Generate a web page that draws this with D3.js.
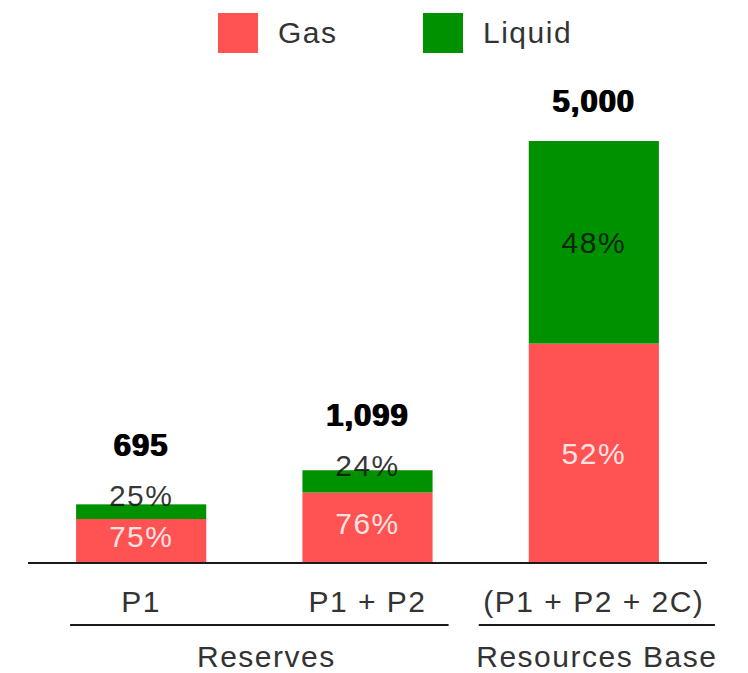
<!DOCTYPE html>
<html>
<head>
<meta charset="utf-8">
<script src="https://cdn.jsdelivr.net/npm/d3@7/dist/d3.min.js"></script>
<style>
  html, body { margin: 0; padding: 0; background: #fff; }
  svg { display: block; font-family: "Liberation Sans", Arial, Helvetica, sans-serif; }
</style>
</head>
<body>
<svg id="chart" width="748" height="673"></svg>
<script>
// Reserves and resources, split into gas and liquid shares
const categories = ["P1", "P1 + P2", "(P1 + P2 + 2C)"];
const totals = [695, 1099, 5000];
const gasPct = [75, 76, 52];
const liquidPct = gasPct.map(p => 100 - p);
const seriesNames = ["Gas", "Liquid"];
const groupNames = ["Reserves", "Resources Base"];
const groupMembers = [[0, 1], [2, 2]];

const colors = { Gas: "#ff5252", Liquid: "#009100" };
const W = 748, H = 673;
const baseY = 563, topY = 141;
const fs = 30;

const svg = d3.select("#chart");

const x = d3.scaleBand()
  .domain(categories)
  .range([28, 707])
  .paddingInner(0.425)
  .paddingOuter(0.2125);

const y = d3.scaleLinear()
  .domain([0, 5000])
  .range([baseY, topY]);

// stacked rows: gas at the bottom, liquid on top
const rows = categories.map((c, i) => ({
  cat: c,
  total: totals[i],
  Gas: totals[i] * gasPct[i] / 100,
  Liquid: totals[i] * liquidPct[i] / 100,
  gasPct: gasPct[i],
  liquidPct: liquidPct[i]
}));
const stack = d3.stack().keys(seriesNames)(rows);

const bars = svg.append("g");
stack.forEach(layer => {
  bars.selectAll(null)
    .data(layer)
    .join("rect")
    .attr("x", d => x(d.data.cat))
    .attr("width", x.bandwidth())
    .attr("y", d => y(d[1]))
    .attr("height", d => y(d[0]) - y(d[1]))
    .attr("fill", colors[layer.key]);
});

// percent labels inside / near each segment
const digitH = fs * 0.72;
const labelInfo = rows.map((r, i) => {
  const g0 = y(0), g1 = y(r.Gas), l1 = y(r.total);
  const gasH = g0 - g1, liqH = g1 - l1;
  const gasC = (g0 + g1) / 2 - (gasH < 100 ? 5 : 0);
  const liqC = (g1 + l1) / 2 - (liqH < 40 ? 16 : 0);
  return { gasC, liqC, top: l1 };
});

const labels = svg.append("g")
  .attr("text-anchor", "middle")
  .style("font-size", fs + "px")
  .style("letter-spacing", "1.5px");

labels.selectAll(".gasLab")
  .data(rows)
  .join("text")
  .attr("x", d => x(d.cat) + x.bandwidth() / 2)
  .attr("y", (d, i) => labelInfo[i].gasC + digitH / 2)
  .attr("fill", "#fff")
  .attr("fill-opacity", 0.85)
  .text(d => d.gasPct + "%");

labels.selectAll(".liqLab")
  .data(rows)
  .join("text")
  .attr("x", d => x(d.cat) + x.bandwidth() / 2)
  .attr("y", (d, i) => labelInfo[i].liqC + digitH / 2)
  .attr("fill", "#111")
  .attr("fill-opacity", 0.85)
  .text(d => d.liquidPct + "%");

// totals above each stack
const fmt = d3.format(",");
const totalY = rows.map((r, i) => Math.min(labelInfo[i].top, labelInfo[i].liqC - digitH / 2) - 29);
const totalsG = svg.append("g")
  .attr("text-anchor", "middle")
  .style("font-size", "31px")
  .style("font-weight", "bold")
  .style("letter-spacing", "1px");
[0, 1.5].forEach(dx => {
  totalsG.selectAll(null)
    .data(rows)
    .join("text")
    .attr("x", d => x(d.cat) + x.bandwidth() / 2 + dx - 0.75)
    .attr("y", (d, i) => totalY[i])
    .attr("fill", "#000")
    .text(d => fmt(d.total));
});

// baseline
svg.append("line")
  .attr("x1", 28).attr("x2", 707)
  .attr("y1", baseY).attr("y2", baseY)
  .attr("stroke", "#1a1a1a").attr("stroke-width", 2);

// category labels
svg.append("g")
  .attr("text-anchor", "middle")
  .style("font-size", fs + "px")
  .style("letter-spacing", "1.5px")
  .selectAll("text")
  .data(categories)
  .join("text")
  .attr("x", d => x(d) + x.bandwidth() / 2)
  .attr("y", 612)
  .attr("fill", "#333")
  .text(d => d);

// group brackets under the categories
const groupPad = [[-6, 16], [-50, 56]];
const groupLabelShift = [7, 0];
const groups = svg.append("g");
groupNames.forEach((name, gi) => {
  const [a, b] = groupMembers[gi];
  const x1 = x(categories[a]) + groupPad[gi][0];
  const x2 = x(categories[b]) + x.bandwidth() + groupPad[gi][1];
  groups.append("line")
    .attr("x1", x1).attr("x2", x2)
    .attr("y1", 625).attr("y2", 625)
    .attr("stroke", "#1a1a1a").attr("stroke-width", 2);
  groups.append("text")
    .attr("x", (x1 + x2) / 2 + groupLabelShift[gi])
    .attr("y", 667)
    .attr("text-anchor", "middle")
    .style("font-size", fs + "px")
    .style("letter-spacing", "1.5px")
    .attr("fill", "#333")
    .text(name);
});

// legend
const legendX = [218, 423];
const legend = svg.append("g");
seriesNames.forEach((s, i) => {
  legend.append("rect")
    .attr("x", legendX[i]).attr("y", 13)
    .attr("width", 40).attr("height", 40)
    .attr("fill", colors[s]);
  legend.append("text")
    .attr("x", legendX[i] + 60).attr("y", 43)
    .style("font-size", fs + "px")
    .style("letter-spacing", "1.5px")
    .attr("fill", "#333")
    .text(s);
});
</script>
</body>
</html>
